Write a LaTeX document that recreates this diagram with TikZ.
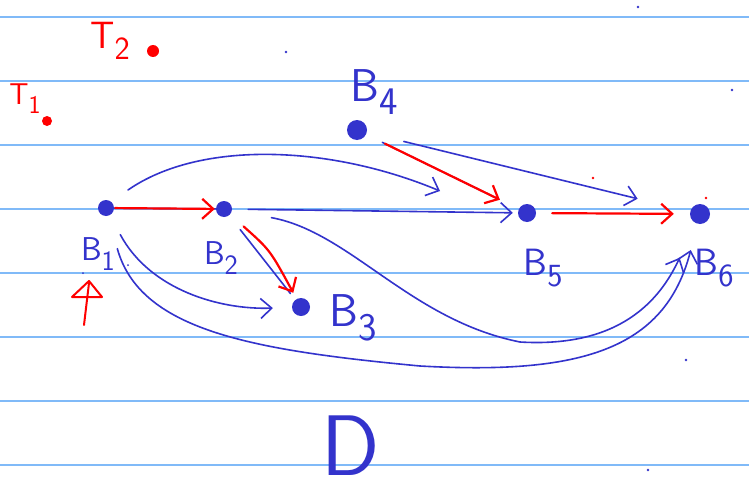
\documentclass[tikz,border=0pt]{standalone}
\usetikzlibrary{arrows.meta}
\definecolor{ink}{RGB}{51,51,204}
\definecolor{pen}{RGB}{255,0,0}
\definecolor{rule}{RGB}{128,186,248}
\newcommand\sublab[2]{#1\raisebox{-0.3em}{\scalebox{0.85}{#2}}}
\tikzset{
  x=1pt, y=-1pt,
  ruleline/.style={rule, line width=1.6pt},
  dotb/.style={circle, fill=ink, inner sep=0pt, minimum size=#1},
  dotr/.style={circle, fill=pen, inner sep=0pt, minimum size=#1},
  blab/.style={text=ink, inner sep=0pt, font=\sffamily\fontsize{33}{36}\selectfont},
  midblab/.style={text=ink, inner sep=0pt, font=\sffamily\fontsize{38}{42}\selectfont},
  bigblab/.style={text=ink, inner sep=0pt, font=\sffamily\fontsize{46}{50}\selectfont},
  rlab/.style={text=pen, inner sep=0pt, font=\sffamily\fontsize{38}{42}\selectfont},
  bl/.style={ink, line width=1.6pt, line cap=round, line join=round},
  rd/.style={pen, line width=2.2pt, line cap=round, line join=round},
  barb/.style={-{Straight Barb[length=11pt,width=20pt]}},
}
\begin{document}
\begin{tikzpicture}
\useasboundingbox (0,0) rectangle (749,495);
\fill[white] (0,0) rectangle (749,495);
% ruled paper
\foreach \yy in {17,81,145,209,273,337,401,465}
  \draw[ruleline] (0,\yy) -- (749,\yy);

% dots (nodes)
\node[dotb=16pt] (B1) at (106,208) {};
\node[dotb=16pt] (B2) at (224,209) {};
\node[dotb=18pt] (B3) at (301,307) {};
\node[dotb=20pt] (B4) at (357,130) {};
\node[dotb=18pt] (B5) at (527,213) {};
\node[dotb=20pt] (B6) at (700,214) {};
\node[dotr=12pt] (T2d) at (153,51) {};
\node[dotr=10pt] (T1d) at (47,121) {};

% labels
\node[blab] (L1) at (98,254) {\sublab{B}{1}};
\node[blab] (L2) at (221,258) {\sublab{B}{2}};
\node[bigblab] (L3) at (353,318) {\sublab{B}{3}};
\node[bigblab] (L4) at (374,92) {\sublab{B}{4}};
\node[midblab] (L5) at (543,268) {\sublab{B}{5}};
\node[midblab] (L6) at (714,268) {\sublab{B}{6}};
\node[rlab] (LT2) at (110,41) {\sublab{T}{2}};
\node[rlab, font=\sffamily\fontsize{30}{34}\selectfont] (LT1) at (25,99) {\sublab{T}{1}};
\node[text=ink, inner sep=0pt, font=\sffamily\fontsize{86}{90}\selectfont] (D) at (351,446) {D};

% free ends
\coordinate (B5top) at (440,191);

% B1 -> B2
\draw[bl] (B1) -- (B2);
\draw[rd, barb, shorten <=1pt, shorten >=1pt] (B1) -- (B2);
% B1 -> B5 (upper arc)
\draw[bl, barb] (B1) ++(22,-18) .. controls (200,140) and (330,145) .. (B5top);
% B2 -> B5
\draw[bl, barb, shorten <=16pt, shorten >=5pt] (B2) -- (B5);
% B2 -> B3
\draw[bl, shorten <=18pt, shorten >=8pt] (B2) -- (B3);
\draw[rd, barb, shorten <=18pt, shorten >=7pt] (B2) .. controls (270,250) .. (B3);
% B1 -> B3
\draw[bl, barb, shorten <=22pt, shorten >=19pt] (B1) .. controls (150,290) and (220,310) .. (B3);
% B1 -> B6 (lower big curve)
\draw[bl, barb, shorten <=34pt, shorten >=27pt] (B1) .. controls (140,330) and (250,350) .. (420,366)
   .. controls (580,375) and (665,350) .. (B6);
% B2 -> B6
\draw[bl, barb, shorten <=40pt, shorten >=38pt] (B2) .. controls (350,232) and (410,320) .. (520,342)
   .. controls (620,348) and (660,300) .. (B6);
% B4 -> B5
\draw[bl, shorten <=18pt, shorten >=22pt] (B4) -- (B5);
\draw[rd, barb, shorten <=21pt, shorten >=21pt] (B4) -- (B5);
% B4 -> B6
\draw[bl, barb, shorten <=38pt, shorten >=54pt] (B4) -- (B6);
% B5 -> B6
\draw[rd, barb, shorten <=16pt, shorten >=16pt] (B5) -- (B6);

% red up arrow mark
\draw[rd, line width=2pt] (84,325) -- (89,283);
\draw[rd, line width=2pt] (72,297) -- (89,281) -- (102,297) -- cycle;

% specks
\fill[ink] (286,52) circle (1.3pt);
\fill[ink] (638,7) circle (1.3pt);
\fill[ink] (732,90) circle (1.3pt);
\fill[ink] (686,360) circle (1.3pt);
\fill[ink] (648,470) circle (1.3pt);
\fill[ink] (83,273) circle (1pt);
\fill[ink] (128,265) circle (1pt);
\fill[pen] (593,178) circle (1.3pt);
\fill[pen] (706,198) circle (1.3pt);
\end{tikzpicture}
\end{document}
